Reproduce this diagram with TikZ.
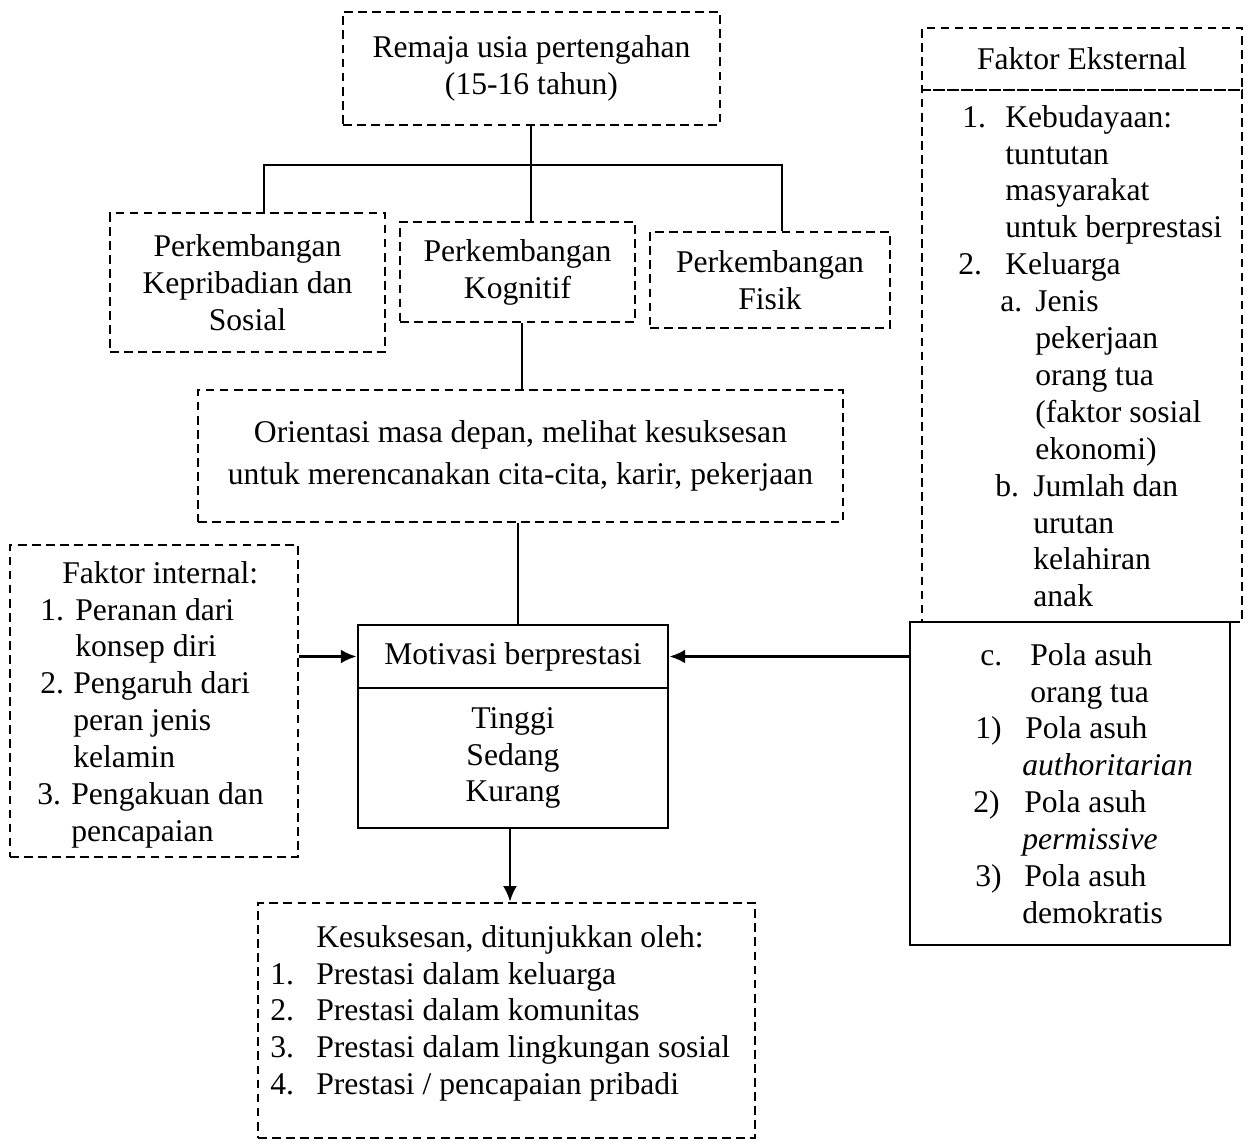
\documentclass[tikz,border=0pt]{standalone}
\usepackage{fontspec}
\setmainfont{Liberation Serif}
\usetikzlibrary{arrows.meta,calc}
\newdimen\pxu \pxu=0.02cm
\newcommand\Li[4]{\makebox[#2\pxu][l]{\hspace*{#1\pxu}#3}#4}
\begin{document}
\begin{tikzpicture}[x=0.02cm,y=-0.02cm,
  font=\fontsize{18}{21}\selectfont,
  sz/.style 2 args={minimum width={#1*0.02cm}, minimum height={#2*0.02cm}},
  dbox/.style={draw, dash pattern=on 5pt off 3pt, line width=1.3pt, inner sep=0pt, align=center},
  sbox/.style={draw, line width=1.6pt, inner sep=0pt, align=center},
  conn/.style={line width=1.6pt},
  arr/.style={conn, -{Latex[length=9pt,width=8pt]}},
  txt/.style={inner sep=0pt, anchor=north west, align=left}]
\useasboundingbox (0,0) rectangle (1258,1142);

% top row
\node[dbox, sz={377}{113}] (remaja) at (531.5,68.5) {Remaja usia pertengahan\\(15-16 tahun)};
\node[dbox, sz={275}{139}] (kepr) at (247.5,282.5) {Perkembangan\\Kepribadian dan\\Sosial};
\node[dbox, sz={235}{100}] (kogn) at (517.5,272) {Perkembangan\\Kognitif};
\node[dbox, sz={240}{96}] (fisik) at (770,280) {Perkembangan\\Fisik};
\node[dbox, sz={645}{132}] (orient) at (520.5,456) {Orientasi masa depan, melihat kesuksesan\\[3pt]untuk merencanakan cita-cita, karir, pekerjaan};

% motivasi
\node[sbox, sz={310}{63}] (mothead) at (513,656.5) {Motivasi berprestasi};
\node[sbox, sz={310}{140}] (motbody) at (513,758) {Tinggi\\Sedang\\Kurang};

% faktor internal
\node[dbox, sz={288}{312}] (intbox) at (154,701) {};
\node[txt] (intlist) at (10,557) {\strut\Li{52}{52}{}{Faktor internal:}\\
\Li{30}{65}{1.}{Peranan dari}\\
\Li{0}{65}{}{konsep diri}\\
\Li{30}{63}{2.}{Pengaruh dari}\\
\Li{0}{63}{}{peran jenis}\\
\Li{0}{63}{}{kelamin}\\
\Li{27}{61}{3.}{Pengakuan dan}\\
\Li{0}{61}{}{pencapaian}};

% kesuksesan
\node[dbox, sz={497}{235}] (kes) at (506.5,1020.5) {};
\node[txt] (keslist) at (258,921) {\strut\Li{58}{58}{}{Kesuksesan, ditunjukkan oleh:}\\
\Li{12}{58}{1.}{Prestasi dalam keluarga}\\
\Li{12}{58}{2.}{Prestasi dalam komunitas}\\
\Li{12}{58}{3.}{Prestasi dalam lingkungan sosial}\\
\Li{12}{58}{4.}{Prestasi / pencapaian pribadi}};

% faktor eksternal
\node[dbox, sz={320}{62}] (exthead) at (1082,59) {Faktor Eksternal};
\node[dbox, sz={320}{532}] (extbody) at (1082,356) {};
\node[sbox, sz={320}{323}] (extpola) at (1070,783.5) {};
\node[txt] (extlist) at (940,101) {\strut\Li{22}{65}{1.}{Kebudayaan:}\\
\Li{0}{65}{}{tuntutan}\\
\Li{0}{65}{}{masyarakat}\\
\Li{0}{65}{}{untuk berprestasi}\\
\Li{18}{65}{2.}{Keluarga}\\
\Li{60}{95}{a.}{Jenis}\\
\Li{0}{95}{}{pekerjaan}\\
\Li{0}{95}{}{orang tua}\\
\Li{0}{95}{}{(faktor sosial}\\
\Li{0}{95}{}{ekonomi)}\\
\Li{55}{93}{b.}{Jumlah dan}\\
\Li{0}{93}{}{urutan}\\
\Li{0}{93}{}{kelahiran}\\
\Li{0}{93}{}{anak}};
\node[txt] (polalist) at (940,639) {\strut\Li{40}{90}{c.}{Pola asuh}\\
\Li{0}{90}{}{orang tua}\\
\Li{35}{85}{1)}{Pola asuh}\\
\Li{0}{82}{}{\textit{authoritarian}}\\
\Li{33}{84}{2)}{Pola asuh}\\
\Li{0}{82}{}{\textit{permissive}}\\
\Li{35}{84}{3)}{Pola asuh}\\
\Li{0}{82}{}{demokratis}};

% connectors
\coordinate (bus) at (531,165);
\coordinate (busL) at (264,165);
\coordinate (busR) at (782,165);
\draw[conn] (remaja.south -| bus) -- (bus);
\draw[conn] (kepr.north -| busL) -- (busL) -- (busR) -- (fisik.north -| busR);
\draw[conn] (bus) -- (kogn.north -| bus);
\coordinate (c1) at (522,0);
\draw[conn] (kogn.south -| c1) -- (orient.north -| c1);
\coordinate (c2) at (518,0);
\draw[conn] (orient.south -| c2) -- (mothead.north -| c2);
\draw[arr] (intbox.east |- mothead.west) -- (mothead.west);
\draw[arr] (extpola.west |- mothead.east) -- (mothead.east);
\coordinate (c3) at (510,0);
\draw[arr] (motbody.south -| c3) -- (kes.north -| c3);
\end{tikzpicture}
\end{document}
